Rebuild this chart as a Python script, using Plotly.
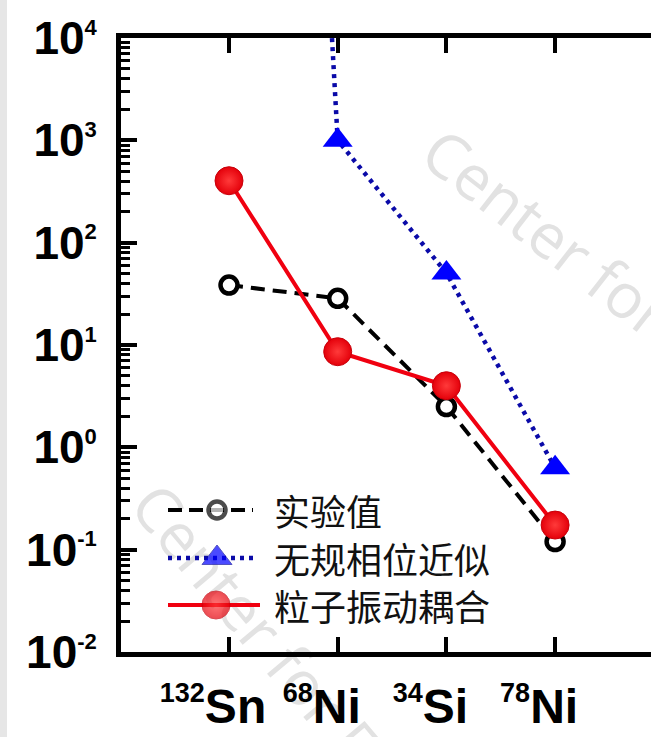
import plotly.graph_objects as go

# ---------------- data ----------------
nuclei = ["<sup><span style='font-size:27px'>132</span></sup>Sn",
          "<sup><span style='font-size:27px'>68</span></sup>Ni",
          "<sup><span style='font-size:27px'>34</span></sup>Si",
          "<sup><span style='font-size:27px'>78</span></sup>Ni"]
cat_idx = [0, 1, 2, 3]
exp_vals = [38.5, 28.6, 2.5, 0.12]          # 实验值
rpa_vals = [1e22, 1000, 50.5, 0.63]        # 无规相位近似 (132Sn off scale)
pvc_vals = [403, 8.6, 4.0, 0.174]          # 粒子振动耦合
names = ["实验值", "无规相位近似", "粒子振动耦合"]
ytick_vals = [1e-2, 1e-1, 1e0, 1e1, 1e2, 1e3, 1e4]
ytick_text = ["10<sup><span style='font-size:22px'>%d</span></sup>" % e for e in range(-2, 5)]

W, H = 651, 737
L, T, B = 121, 38, 85
px_per_cat = 108.7
x0_px = 229
plot_w = W - L
plot_h = H - T - B
xr = [(L - x0_px) / px_per_cat, (W - x0_px) / px_per_cat]


def px2paper(px, py):
    return (px - L) / plot_w, (H - B - py) / plot_h


fig = go.Figure()

# left grey strip of the original screenshot
fig.add_shape(type="rect", xref="paper", yref="paper",
              x0=-L / plot_w, x1=(7 - L) / plot_w, y0=-B / plot_h, y1=(H - B) / plot_h,
              fillcolor="#e6e6e6", line_width=0, layer="below")

# watermarks (drawn beneath the data)
for (cx, cy), txt, ang in [((545, 235), "Center for", 38), ((265, 640), "Center for Fu", 50)]:
    px0, py0 = px2paper(cx - 5, cy + 5)
    px1, py1 = px2paper(cx + 5, cy - 5)
    fig.add_shape(type="rect", xref="paper", yref="paper", x0=px0, x1=px1, y0=py0, y1=py1,
                  line_width=0, fillcolor="rgba(0,0,0,0)", layer="below",
                  label=dict(text=txt, textangle=ang, textposition="middle center",
                             font=dict(family="Open Sans", size=62, color="#e2e2e2")))

ball = dict(symbol="circle", size=28, color="#e4000a",
            gradient=dict(type="radial", color="#ff3a3a"),
            line=dict(color="#c8000a", width=1))

# data traces
fig.add_trace(go.Scatter(x=cat_idx, y=exp_vals, mode="lines+markers", name=names[0],
                         line=dict(color="black", width=4, dash="14px,8px"),
                         marker=dict(symbol="circle", size=17, color="white",
                                     line=dict(color="black", width=4.5)),
                         showlegend=False))
fig.add_trace(go.Scatter(x=cat_idx, y=rpa_vals, mode="lines+markers", name=names[1],
                         line=dict(color="#0a0aa8", width=4.5, dash="4px,5px"),
                         marker=dict(symbol="triangle-up", size=26, color="#0000ff"),
                         showlegend=False))
fig.add_trace(go.Scatter(x=cat_idx, y=pvc_vals, mode="lines+markers", name=names[2],
                         line=dict(color="#f00010", width=4),
                         marker=ball, showlegend=False))

# custom legend (pixel overlay axis)
leg_y = [510, 558, 605]
fig.add_trace(go.Scatter(x=[168, 217, 253], y=[leg_y[0]] * 3, xaxis="x2", yaxis="y3",
                         mode="lines+markers", showlegend=False, hoverinfo="skip",
                         line=dict(color="black", width=4, dash="14px,7px"),
                         marker=dict(symbol="circle", size=[0, 17, 0], color="white",
                                     line=dict(color="black", width=[0, 4.5, 0]))))
fig.add_trace(go.Scatter(x=[168, 217, 256], y=[leg_y[1]] * 3, xaxis="x2", yaxis="y3",
                         mode="lines+markers", showlegend=False, hoverinfo="skip",
                         line=dict(color="#0a0aa8", width=4.5, dash="4px,5px"),
                         marker=dict(symbol="triangle-up", size=[0, 26, 0], color="#0000ff")))
fig.add_trace(go.Scatter(x=[168, 216, 260], y=[leg_y[2]] * 3, xaxis="x2", yaxis="y3",
                         mode="lines+markers", showlegend=False, hoverinfo="skip",
                         line=dict(color="#f00010", width=4),
                         marker=dict(ball, size=[0, 28, 0])))
for yy, nm in zip(leg_y, names):
    fig.add_annotation(x=272, y=yy, xref="x2", yref="y3", text=nm, showarrow=False,
                       xanchor="left", yanchor="middle",
                       font=dict(family="Noto Sans CJK SC", size=36, color="#111"))

fig.update_layout(
    width=W, height=H,
    margin=dict(l=L, r=0, t=T, b=B, pad=0),
    paper_bgcolor="white", plot_bgcolor="rgba(0,0,0,0)",
    xaxis=dict(range=xr, tickmode="array", tickvals=cat_idx, ticktext=nuclei,
               showline=True, linecolor="black", linewidth=5, mirror="ticks",
               ticks="inside", ticklen=15, tickwidth=4, tickcolor="black",
               showgrid=False, zeroline=False, ticklabelshift=-16, ticklabelstandoff=8,
               tickfont=dict(family="Liberation Sans", size=48, color="black", weight="bold")),
    yaxis=dict(type="log", range=[-2, 4], tickmode="array", tickvals=ytick_vals, ticktext=ytick_text,
               showline=True, linecolor="black", linewidth=5, mirror=False,
               ticks="inside", ticklen=16, tickwidth=4, tickcolor="black",
               minor=dict(ticks="inside", ticklen=9, tickwidth=3, tickcolor="black", dtick="D1",
                          showgrid=False),
               showgrid=False, zeroline=False, ticklabelstandoff=10,
               tickfont=dict(family="Liberation Sans", size=46, color="black", weight="bold")),
    yaxis2=dict(type="log", range=[-2, 4], overlaying="y", side="right", anchor="x",
                tickmode="array", tickvals=ytick_vals, showticklabels=False,
                ticks="inside", ticklen=9, tickwidth=4, tickcolor="black",
                showline=False, showgrid=False, zeroline=False),
    xaxis2=dict(range=[L, W], overlaying="x", anchor="y3", visible=False),
    yaxis3=dict(range=[H - B, T], overlaying="y", anchor="x2", visible=False),
)

fig.write_html("out.html")
